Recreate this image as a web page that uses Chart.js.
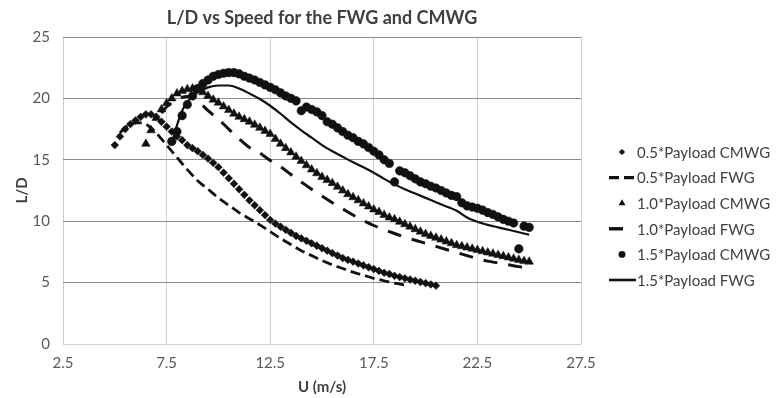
<!DOCTYPE html>
<html>
<head>
<meta charset="utf-8">
<script src="https://cdn.jsdelivr.net/npm/chart.js@4.4.1/dist/chart.umd.min.js"></script>
<style>
  html, body { margin: 0; padding: 0; background: #ffffff; }
  #wrap { width: 784px; height: 398px; }
</style>
</head>
<body>
<div id="wrap"><canvas id="c" width="784" height="398"></canvas></div>
<script>
// ---- data ----
const seriesNames = ['0.5*Payload CMWG', '0.5*Payload FWG', '1.0*Payload CMWG', '1.0*Payload FWG', '1.5*Payload CMWG', '1.5*Payload FWG'];

const u05c = [5.0,5.25,5.5,5.75,6.0,6.25,6.5,6.75,7.0,7.25,7.5,7.75,8.0,8.25,8.5,8.75,9.0,9.25,9.5,9.75,10.0,10.25,10.5,10.75,11.0,11.25,11.5,11.75,12.0,12.25,12.5,12.75,13.0,13.25,13.5,13.75,14.0,14.25,14.5,14.75,15.0,15.25,15.5,15.75,16.0,16.25,16.5,16.75,17.0,17.25,17.5,17.75,18.0,18.25,18.5,18.75,19.0,19.25,19.5,19.75,20.0,20.25,20.5];
const ld05c = [16.2,16.9,17.5,17.9,18.2,18.5,18.7,18.7,18.5,18.1,17.7,17.3,16.9,16.6,16.2,15.95,15.7,15.4,15.1,14.75,14.4,13.95,13.5,13.05,12.6,12.15,11.7,11.3,10.9,10.5,10.1,9.8,9.55,9.3,9.05,8.8,8.6,8.4,8.2,8.0,7.8,7.6,7.4,7.2,7.0,6.85,6.7,6.55,6.4,6.25,6.1,5.95,5.8,5.7,5.55,5.45,5.35,5.25,5.15,5.05,4.95,4.85,4.75];

const u05f = [5.25,5.5,5.75,6.0,6.25,6.5,6.75,7.0,7.25,7.5,8.0,8.5,9.0,9.5,10.0,10.5,11.0,11.5,12.0,12.5,13.0,13.5,14.0,14.5,15.0,15.5,16.0,16.5,17.0,17.5,18.0,18.5,19.0];
const ld05f = [17.2,17.6,17.9,18.0,18.0,17.9,17.6,17.2,16.7,16.2,15.2,14.2,13.3,12.6,11.9,11.3,10.7,10.2,9.7,9.15,8.6,8.1,7.6,7.2,6.8,6.45,6.15,5.85,5.6,5.35,5.15,4.95,4.8];

const u10c = [6.5,6.75,7.0,7.25,7.5,7.75,8.0,8.25,8.5,8.75,9.0,9.25,9.5,9.75,10.0,10.25,10.5,10.75,11.0,11.25,11.5,11.75,12.0,12.25,12.5,12.75,13.0,13.25,13.5,13.75,14.0,14.25,14.5,14.75,15.0,15.25,15.5,15.75,16.0,16.25,16.5,16.75,17.0,17.25,17.5,17.75,18.0,18.25,18.5,18.75,19.0,19.25,19.5,19.75,20.0,20.25,20.5,20.75,21.0,21.25,21.5,21.75,22.0,22.25,22.5,22.75,23.0,23.25,23.5,23.75,24.0,24.25,24.5,24.75,25.0];
const ld10c = [16.3,17.4,18.4,19.1,19.6,20.0,20.4,20.6,20.75,20.8,20.7,20.5,20.2,19.9,19.65,19.35,19.05,18.75,18.5,18.3,18.1,17.85,17.6,17.35,17.1,16.7,16.3,15.95,15.6,15.25,14.9,14.55,14.2,13.9,13.6,13.35,13.1,12.8,12.5,12.2,11.95,11.7,11.45,11.2,10.95,10.75,10.5,10.3,10.15,9.95,9.75,9.55,9.35,9.15,8.95,8.8,8.65,8.5,8.35,8.2,8.05,7.95,7.85,7.75,7.65,7.55,7.45,7.35,7.25,7.15,7.05,6.95,6.85,6.75,6.7];

const u10f = [7.25,7.5,8.0,8.5,9.0,9.5,10.0,10.5,11.0,11.5,12.0,12.5,13.0,13.5,14.0,14.5,15.0,15.5,16.0,16.5,17.0,17.5,18.0,18.5,19.0,19.5,20.0,20.5,21.0,21.5,22.0,22.5,23.0,23.5,24.0,24.5,24.75];
const ld10f = [18.8,19.3,19.9,20.15,19.8,19.0,18.3,17.5,16.7,16.0,15.55,14.95,14.45,13.8,13.2,12.6,12.05,11.5,11.0,10.5,10.05,9.65,9.3,9.0,8.7,8.45,8.2,7.95,7.7,7.45,7.2,6.95,6.75,6.6,6.45,6.3,6.25];

const u15c = [7.75,8.0,8.25,8.5,8.75,9.0,9.25,9.5,9.75,10.0,10.25,10.5,10.75,11.0,11.25,11.5,11.75,12.0,12.25,12.5,12.75,13.0,13.25,13.5,13.75,14.0,14.25,14.5,14.75,15.0,15.25,15.5,15.75,16.0,16.25,16.5,16.75,17.0,17.25,17.5,17.75,18.0,18.25,18.5,18.75,19.0,19.25,19.5,19.75,20.0,20.25,20.5,20.75,21.0,21.25,21.5,21.75,22.0,22.25,22.5,22.75,23.0,23.25,23.5,23.75,24.0,24.25,24.5,24.75,25.0];
const ld15c = [16.5,17.3,18.6,19.5,20.2,20.8,21.2,21.5,21.8,21.95,22.05,22.1,22.1,22.0,21.8,21.65,21.5,21.3,21.1,20.9,20.7,20.45,20.2,20.0,19.8,19.0,19.3,19.1,18.9,18.6,18.1,17.9,17.6,17.3,17.0,16.8,16.5,16.3,16.0,15.7,15.4,15.0,14.7,13.2,14.1,13.95,13.7,13.45,13.2,13.05,12.85,12.7,12.5,12.3,12.1,12.0,11.5,11.25,11.15,11.05,10.9,10.7,10.55,10.35,10.15,10.0,9.85,7.75,9.6,9.5];

const u15f = [7.75,8.0,8.25,8.5,8.75,9.0,9.5,10.0,10.5,11.0,11.5,12.0,12.5,13.0,13.5,14.0,14.5,15.0,15.5,16.0,16.5,17.0,17.5,18.0,18.5,19.0,19.5,20.0,20.5,21.0,21.5,22.0,22.5,23.0,23.5,24.0,24.5,25.0];
const ld15f = [16.3,17.8,19.0,19.7,20.2,20.5,20.9,21.05,21.05,20.8,20.4,19.95,19.4,18.75,18.05,17.4,16.8,16.2,15.7,15.25,14.8,14.4,13.95,13.45,13.0,12.6,12.25,11.9,11.55,11.2,10.85,10.3,9.95,9.7,9.5,9.3,9.1,8.9];

const xTickValues = [2.5, 7.5, 12.5, 17.5, 22.5, 27.5];
const yTickValues = [0, 5, 10, 15, 20, 25];

// ---- helpers ----
function pts(us, vs) { return us.map((u, i) => ({ x: u, y: vs[i] })); }

const FONT = 'Lato, "Open Sans", "DejaVu Sans", sans-serif';
const INK = '#111111';

const markerDs = (label, us, vs, style, r) => ({
  label, data: pts(us, vs), showLine: false,
  pointStyle: style, pointRadius: r, pointHoverRadius: r,
  pointBackgroundColor: INK, pointBorderColor: INK, pointBorderWidth: 0.5,
  backgroundColor: INK, borderColor: INK
});
const lineDs = (label, us, vs, dash, w) => ({
  label, data: pts(us, vs), showLine: true, pointRadius: 0, pointHoverRadius: 0,
  borderColor: INK, backgroundColor: INK, borderWidth: w, borderDash: dash,
  cubicInterpolationMode: 'monotone', fill: false
});

const datasets = [
  markerDs(seriesNames[0], u05c, ld05c, 'rectRot', 3.9),
  lineDs(seriesNames[1], u05f, ld05f, [10, 5], 2.8),
  markerDs(seriesNames[2], u10c, ld10c, 'triangle', 5),
  lineDs(seriesNames[3], u10f, ld10f, [14, 11], 3),
  markerDs(seriesNames[4], u15c, ld15c, 'circle', 4.3),
  lineDs(seriesNames[5], u15f, ld15f, [], 2.2)
];

// custom side legend (layout only; symbols mirror the dataset styles)
const sideLegend = {
  id: 'sideLegend',
  afterDraw(chart) {
    const ctx = chart.ctx;
    const area = chart.chartArea;
    const lineX0 = area.right + 28, fullLen = 27;
    const symX = area.right + 41;
    const textX = area.right + 56;
    const y0 = 152, dy = 25.6;
    ctx.save();
    chart.data.datasets.forEach((ds, i) => {
      const y = y0 + i * dy;
      ctx.fillStyle = INK; ctx.strokeStyle = INK;
      if (ds.showLine) {
        const dash = ds.borderDash || [];
        const len = (dash.length && dash[0] + dash[1] > 20) ? dash[0] : fullLen;
        ctx.lineWidth = ds.borderWidth + 0.4;
        ctx.setLineDash(dash);
        ctx.beginPath(); ctx.moveTo(lineX0, y); ctx.lineTo(lineX0 + len, y); ctx.stroke();
        ctx.setLineDash([]);
      } else {
        const r = ds.pointRadius * 0.8;
        ctx.beginPath();
        if (ds.pointStyle === 'rectRot') {
          ctx.moveTo(symX, y - r); ctx.lineTo(symX + r, y); ctx.lineTo(symX, y + r); ctx.lineTo(symX - r, y);
        } else if (ds.pointStyle === 'triangle') {
          ctx.moveTo(symX, y - r); ctx.lineTo(symX + r * 0.866, y + r * 0.5); ctx.lineTo(symX - r * 0.866, y + r * 0.5);
        } else {
          ctx.arc(symX, y, r, 0, Math.PI * 2);
        }
        ctx.closePath(); ctx.fill();
      }
      ctx.fillStyle = '#404040';
      ctx.font = '15px ' + FONT;
      ctx.textBaseline = 'middle';
      ctx.textAlign = 'left';
      ctx.fillText(ds.label, textX, y + 1);
    });
    ctx.restore();
  }
};

new Chart(document.getElementById('c'), {
  type: 'scatter',
  data: { datasets },
  plugins: [sideLegend],
  options: {
    responsive: false,
    animation: false,
    events: [],
    layout: { padding: { left: 0, right: 203, top: 0, bottom: 0 } },
    plugins: {
      legend: { display: false },
      tooltip: { enabled: false },
      title: {
        display: true, fullSize: false,
        text: 'L/D vs Speed for the FWG and CMWG',
        color: '#404040',
        font: { family: FONT, size: 18, weight: 'bold' },
        padding: { top: 7.5, bottom: 7.9 }
      }
    },
    scales: {
      x: {
        type: 'linear', min: 2.5, max: 27.5,
        afterBuildTicks(s) { s.ticks = xTickValues.map(v => ({ value: v })); },
        afterFit(s) { s.height = 54; },
        ticks: { color: '#595959', font: { family: FONT, size: 15 }, padding: 10, callback: v => String(v) },
        grid: { color: '#d0d0d0', lineWidth: 1, drawTicks: false },
        border: { display: false },
        title: { display: true, text: 'U (m/s)', color: '#404040', font: { family: FONT, size: 15, weight: 'bold' }, padding: 2 }
      },
      y: {
        type: 'linear', min: 0, max: 25,
        afterBuildTicks(s) { s.ticks = yTickValues.map(v => ({ value: v })); },
        afterFit(s) { s.width = 63; },
        ticks: { color: '#595959', font: { family: FONT, size: 15 }, padding: 13, callback: v => String(v) },
        grid: { color: ctx => (ctx.tick && ctx.tick.value === 0 ? '#d0d0d0' : '#8c8c8c'), lineWidth: 1, drawTicks: false },
        border: { display: false },
        title: { display: true, text: 'L/D', color: '#404040', font: { family: FONT, size: 15, weight: 'bold' }, padding: 13 }
      }
    }
  }
});
</script>
</body>
</html>
